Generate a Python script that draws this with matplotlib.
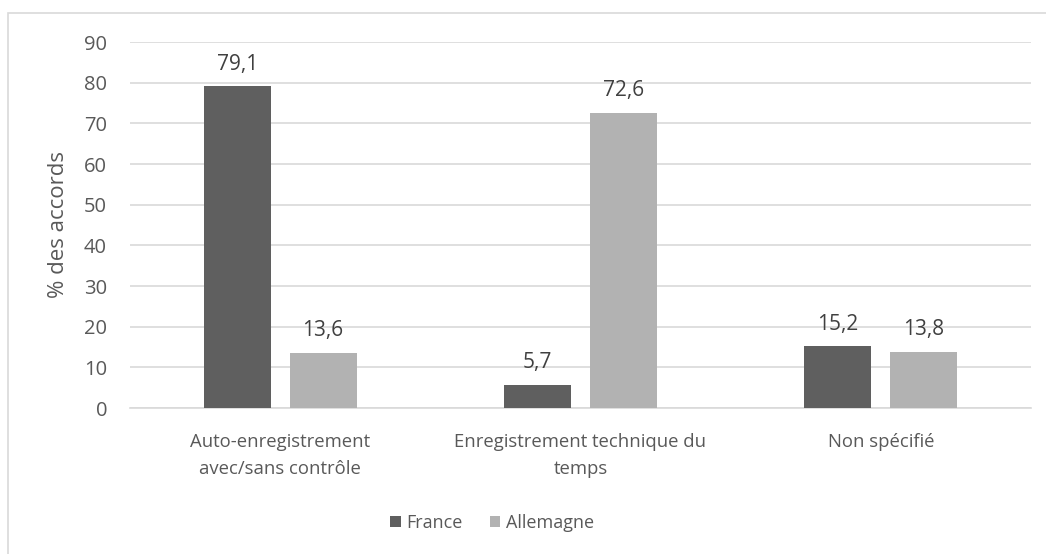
import numpy as np
import matplotlib.pyplot as plt
from matplotlib.patches import Rectangle

categories = ['Auto-enregistrement\navec/sans contrôle', 'Enregistrement technique du\ntemps', 'Non spécifié']
france = [79.1, 5.7, 15.2]
allemagne = [13.6, 72.6, 13.8]
series_names = ['France', 'Allemagne']

plt.rcParams['font.family'] = ['Open Sans', 'DejaVu Sans']
txt = '#595959'

fig = plt.figure(figsize=(10.46, 5.54), dpi=100)
ax = fig.add_axes([130/1046, 1 - 408/554, 901/1046, 366/554])

# frame around the chart area
fig.patches.append(Rectangle((8/1046, -0.1), 1.2, 1 - 13/554 + 0.1, transform=fig.transFigure,
                             fill=False, edgecolor='#d9d9d9', linewidth=1.2))

x = np.arange(len(categories))
w = 0.223
off = 0.143
b1 = ax.bar(x - off, france, w, color='#5f5f5f', label=series_names[0], zorder=3)
b2 = ax.bar(x + off, allemagne, w, color='#b2b2b2', label=series_names[1], zorder=3)

for bars, vals in ((b1, france), (b2, allemagne)):
    for rect, v in zip(bars, vals):
        ax.text(rect.get_x() + rect.get_width()/2, v + 5.4, ('%.1f' % v).replace('.', ','),
                ha='center', va='center', fontsize=15, color='#404040')

ax.set_xlim(-0.5, 2.5)
ax.set_ylim(0, 90)
ax.set_yticks(np.arange(0, 91, 10))
ax.yaxis.grid(True, color='#d9d9d9', linewidth=1.2, zorder=0)
ax.set_axisbelow(True)
for s in ['top', 'right', 'left']:
    ax.spines[s].set_visible(False)
ax.spines['bottom'].set_color('#d9d9d9')
ax.spines['bottom'].set_linewidth(1.2)
ax.tick_params(axis='both', length=0, colors=txt)
ax.tick_params(axis='y', pad=16.5, labelsize=14.5)
ax.tick_params(axis='x', pad=18, labelsize=13.3)
ax.set_xticks(x)
ax.set_xticklabels(categories, linespacing=1.62)
ax.set_ylabel('% des accords', fontsize=16, color=txt, labelpad=11)

leg = fig.legend(loc='center', bbox_to_anchor=(492/1046, 1 - 523/554), ncol=2, frameon=False,
                 fontsize=13, handlelength=0.6, handleheight=0.6, handletextpad=0.3,
                 columnspacing=1.5)
for t in leg.get_texts():
    t.set_color(txt)

fig.savefig('out.png', dpi=100)
